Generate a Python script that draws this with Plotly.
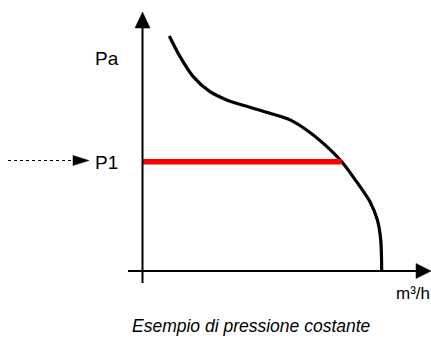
import plotly.graph_objects as go

# ---- data (flow in % of max, pressure in % of max) ----
flow = [11.2, 15.7, 21.2, 28.2, 35.2, 44.9, 54.7, 61.7, 68.6, 75.6, 83.3, 89.5, 95.1, 98.2, 99.6, 100.0]
pressure = [100.0, 91.2, 82.7, 76.3, 72.8, 69.7, 66.7, 64.3, 60.0, 54.3, 46.5, 38.0, 29.5, 21.7, 13.2, 0.0]
p1_value = 46.5
p1_flow_end = 83.3

x_label = "m³/h"
y_label = "Pa"
p1_label = "P1"
caption = "Esempio di pressione costante"

# ---- layout constants ----
W, H = 431, 341
X0_PX, XSCALE = 142.5, 2.392   # pixel of flow 0, px per flow unit
Y0_PX, YSCALE = 271.0, 2.35    # pixel of pressure 0, px per pressure unit

def fx(px):  # pixel -> flow units
    return (px - X0_PX) / XSCALE

def fy(py):  # pixel -> pressure units
    return (Y0_PX - py) / YSCALE

xr = [fx(0), fx(W)]
yr = [fy(H), fy(0)]

fig = go.Figure()

# pump curve
fig.add_trace(go.Scatter(x=flow, y=pressure, mode="lines",
                         line=dict(color="black", width=3.2, shape="spline", smoothing=0.8),
                         hoverinfo="skip", showlegend=False))
# constant pressure line
fig.add_trace(go.Scatter(x=[0, p1_flow_end], y=[p1_value, p1_value], mode="lines",
                         line=dict(color="#ff0000", width=5.5),
                         hoverinfo="skip", showlegend=False))

shapes = []
# y axis line
shapes.append(dict(type="line", xref="x", yref="y", x0=0, x1=0, y0=fy(283), y1=fy(24),
                   line=dict(color="black", width=2)))
# x axis line
shapes.append(dict(type="line", xref="x", yref="y", x0=fx(128), x1=fx(420), y0=0, y1=0,
                   line=dict(color="black", width=2)))

def tri(pts):
    d = "M " + " L ".join(f"{fx(a)},{fy(b)}" for a, b in pts) + " Z"
    return dict(type="path", xref="x", yref="y", path=d, fillcolor="black",
                line=dict(color="black", width=0.5))

# arrowheads
shapes.append(tri([(X0_PX, 12), (X0_PX - 7.5, 28), (X0_PX + 7.5, 28)]))
shapes.append(tri([(431, Y0_PX), (416, Y0_PX - 7.5), (416, Y0_PX + 7.5)]))
# dotted pointer to P1
shapes.append(dict(type="line", xref="x", yref="y", x0=fx(8), x1=fx(74), y0=fy(160.5), y1=fy(160.5),
                   line=dict(color="black", width=1.2, dash="dot")))
shapes.append(tri([(89, 160.5), (73, 155.5), (73, 165.5)]))

fig.update_layout(shapes=shapes)

font = dict(family="Liberation Sans, Arial, sans-serif", color="black")
fig.add_annotation(x=fx(107), y=fy(58), text=y_label, showarrow=False,
                   font=dict(size=19, **font), xanchor="center", yanchor="middle")
fig.add_annotation(x=fx(106.5), y=p1_value, yshift=-1, text=p1_label, showarrow=False,
                   font=dict(size=19, **font), xanchor="center", yanchor="middle")
fig.add_annotation(x=fx(412.5), y=fy(293), text=x_label, showarrow=False,
                   font=dict(size=17, **font), xanchor="center", yanchor="middle")
fig.add_annotation(x=fx(251), y=fy(326), text="<i>" + caption + "</i>", showarrow=False,
                   font=dict(size=17.5, **font), xanchor="center", yanchor="middle")

fig.update_layout(
    width=W, height=H, autosize=False,
    margin=dict(l=0, r=0, t=0, b=0, pad=0),
    paper_bgcolor="white", plot_bgcolor="white",
    xaxis=dict(range=xr, visible=False, fixedrange=True),
    yaxis=dict(range=yr, visible=False, fixedrange=True),
    showlegend=False,
)

fig.write_html("out.html", config={"displayModeBar": False, "staticPlot": True},
               post_script="document.body.style.margin='0';document.body.style.padding='0';"
                           "document.body.style.overflow='hidden';")
